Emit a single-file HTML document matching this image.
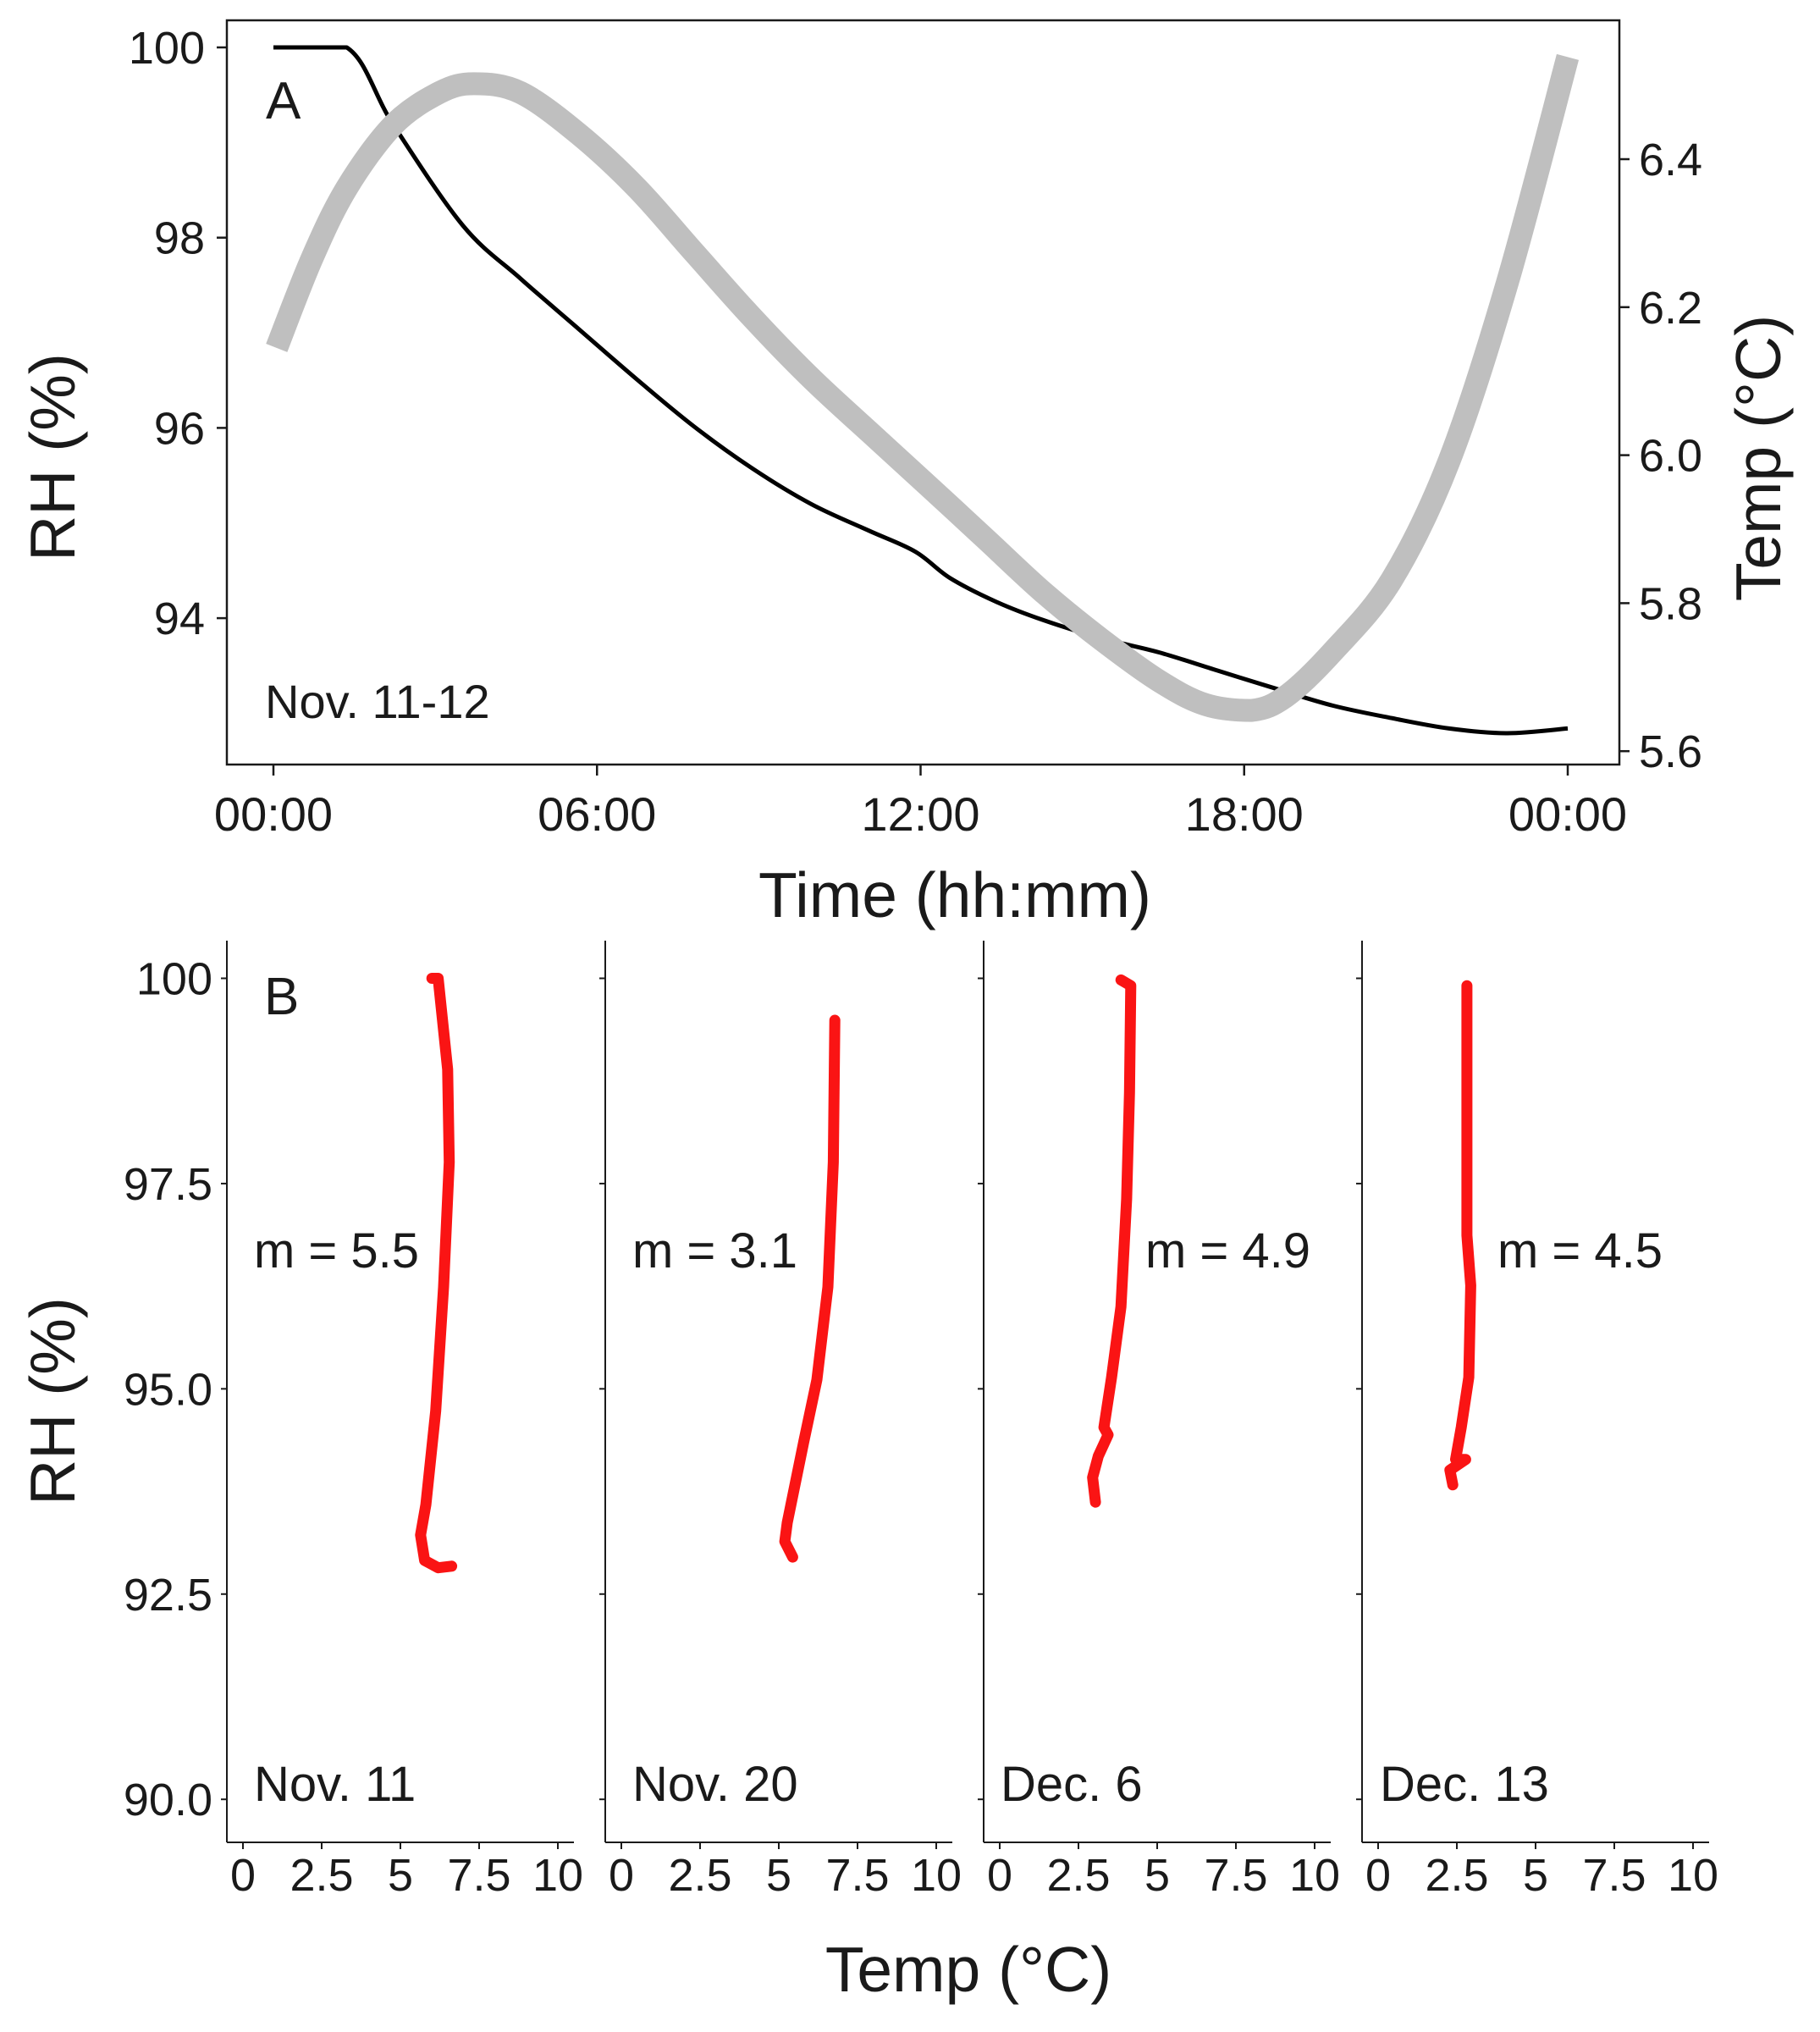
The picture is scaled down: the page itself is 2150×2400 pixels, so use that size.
<!DOCTYPE html>
<html><head><meta charset="utf-8"><style>
html,body{margin:0;padding:0;background:#fff;}
svg{display:block;font-family:"Liberation Sans",Arial,sans-serif;}
</style></head><body>
<svg id="fig" width="2150" height="2400" viewBox="0 0 2150 2400" xmlns="http://www.w3.org/2000/svg">
<g id="pa"></g>
<g id="pb"></g>
</svg>
<script>
// ---- Panel A data ----
const rhHours = [0, 1.36, 2.22, 3.51, 4.58, 5.66, 6.74, 7.81, 8.89, 9.97, 11.04, 11.9, 12.55, 13.41, 14.27, 15.35, 16.42, 17.5, 18.58, 19.65, 20.73, 21.8, 22.88, 24];
const rhValues = [100, 100, 99.19, 98.13, 97.57, 97.04, 96.51, 96.01, 95.57, 95.2, 94.92, 94.7, 94.42, 94.17, 93.98, 93.79, 93.64, 93.45, 93.26, 93.08, 92.95, 92.84, 92.79, 92.84];
const tempHours = [0.06, 0.71, 1.36, 2.22, 3.08, 3.72, 4.58, 5.66, 6.74, 7.81, 8.89, 9.97, 11.04, 12.12, 13.19, 14.27, 15.35, 16.42, 17.28, 18.14, 18.79, 19.65, 20.73, 21.8, 22.88, 24];
const tempValues = [6.145, 6.265, 6.361, 6.446, 6.49, 6.502, 6.49, 6.434, 6.361, 6.273, 6.185, 6.104, 6.032, 5.96, 5.888, 5.815, 5.751, 5.695, 5.663, 5.655, 5.675, 5.735, 5.831, 5.992, 6.233, 6.538];
const timeTicks = [0, 6, 12, 18, 24];
const timeTickLabels = ["00:00", "06:00", "12:00", "18:00", "00:00"];
const rhTicksA = [94, 96, 98, 100];
const tempTicksA = [5.6, 5.8, 6.0, 6.2, 6.4];

// ---- Panel B data ----
const panelDates = ["Nov. 11", "Nov. 20", "Dec. 6", "Dec. 13"];
const slopeLabels = ["m = 5.5", "m = 3.1", "m = 4.9", "m = 4.5"];
const bTemp0 = [6.0, 6.2, 6.5, 6.55, 6.37, 6.12, 5.81, 5.64, 5.77, 6.2, 6.63];
const bRH0 = [100, 100, 98.89, 97.76, 96.24, 94.73, 93.59, 93.22, 92.91, 92.82, 92.84];
const bTemp1 = [6.78, 6.73, 6.56, 6.21, 5.79, 5.27, 5.19, 5.44];
const bRH1 = [99.49, 97.76, 96.24, 95.11, 94.35, 93.37, 93.14, 92.95];
const bTemp2 = [3.85, 4.16, 4.12, 4.03, 3.85, 3.55, 3.31, 3.44, 3.13, 2.95, 3.04];
const bRH2 = [99.98, 99.91, 98.61, 97.31, 96.0, 95.14, 94.53, 94.44, 94.18, 93.92, 93.62];
const bTemp3 = [2.82, 2.82, 2.94, 2.88, 2.64, 2.46, 2.78, 2.28, 2.37];
const bRH3 = [99.91, 96.87, 96.26, 95.14, 94.53, 94.14, 94.14, 94.01, 93.83];
const rhTicksB = [90, 92.5, 95, 97.5, 100];
const rhTickLabelsB = ["90.0", "92.5", "95.0", "97.5", "100"];
const tempTicksB = [0, 2.5, 5, 7.5, 10];
const tempTickLabelsB = ["0", "2.5", "5", "7.5", "10"];

const NS = "http://www.w3.org/2000/svg";
function mk(parent, tag, attrs, text) {
  const e = document.createElementNS(NS, tag);
  for (const k in attrs) e.setAttribute(k, attrs[k]);
  if (text !== undefined) e.textContent = text;
  parent.appendChild(e);
  return e;
}
function clamp(v, a, b) { const lo = Math.min(a, b), hi = Math.max(a, b); return Math.max(lo, Math.min(hi, v)); }
function smoothPath(pts) {
  let d = "M" + pts[0][0].toFixed(1) + "," + pts[0][1].toFixed(1);
  for (let i = 0; i < pts.length - 1; i++) {
    const p0 = pts[Math.max(0, i - 1)], p1 = pts[i], p2 = pts[i + 1], p3 = pts[Math.min(pts.length - 1, i + 2)];
    const c1x = p1[0] + (p2[0] - p0[0]) / 6, c1y = clamp(p1[1] + (p2[1] - p0[1]) / 6, p1[1], p2[1]);
    const c2x = p2[0] - (p3[0] - p1[0]) / 6, c2y = clamp(p2[1] - (p3[1] - p1[1]) / 6, p1[1], p2[1]);
    d += " C" + c1x.toFixed(1) + "," + c1y.toFixed(1) + " " + c2x.toFixed(1) + "," + c2y.toFixed(1) + " " + p2[0].toFixed(1) + "," + p2[1].toFixed(1);
  }
  return d;
}
const INK = "#1a1a1a";

// ---- Panel A ----
const pa = document.getElementById("pa");
const xA = h => 323 + h * (1852 - 323) / 24;
const yRH = v => 56 + (100 - v) * 112.35;
const yT = v => 188 + (6.4 - v) * 874;

let el;
el = mk(pa, "rect", {x: 268, y: 24, width: 1645, height: 879, fill: "none", stroke: INK, "stroke-width": 2.5});



rhTicksA.forEach(v => {
  el = mk(pa, "line", {x1: 256, x2: 268, y1: yRH(v), y2: yRH(v), stroke: INK, "stroke-width": 2.5});
  
  
  el = mk(pa, "text", {x: 242, y: yRH(v) + 19, "text-anchor": "end", "font-size": 54, fill: INK}, String(v));
  
  
});
tempTicksA.forEach(v => {
  el = mk(pa, "line", {x1: 1913, x2: 1925, y1: yT(v), y2: yT(v), stroke: INK, "stroke-width": 2.5});
  
  
  el = mk(pa, "text", {x: 1936, y: yT(v) + 19, "font-size": 54, fill: INK}, v.toFixed(1));
  
  
});
timeTicks.forEach((h, i) => {
  el = mk(pa, "line", {x1: xA(h), x2: xA(h), y1: 903, y2: 916, stroke: INK, "stroke-width": 2.5});
  
  
  el = mk(pa, "text", {x: xA(h), y: 981, "text-anchor": "middle", "font-size": 56, fill: INK}, timeTickLabels[i]);
  
  
});

const rhPts = rhHours.map((h, i) => [xA(h), yRH(rhValues[i])]);
el = mk(pa, "path", {d: smoothPath(rhPts), fill: "none", stroke: "#000", "stroke-width": 5, "stroke-linejoin": "round"});



const tPts = tempHours.map((h, i) => [xA(h), yT(tempValues[i])]);
el = mk(pa, "path", {d: smoothPath(tPts), fill: "none", stroke: "#bfbfbf", "stroke-width": 27, "stroke-linejoin": "round", "stroke-linecap": "butt"});



el = mk(pa, "text", {x: 314, y: 140, "font-size": 62, fill: INK}, "A");


el = mk(pa, "text", {x: 313, y: 848, "font-size": 56, fill: INK}, "Nov. 11-12");


el = mk(pa, "text", {x: 0, y: 0, "font-size": 75, fill: INK, "text-anchor": "middle", transform: "translate(88,540) rotate(-90)"}, "RH (%)");


el = mk(pa, "text", {x: 0, y: 0, "font-size": 75, fill: INK, "text-anchor": "middle", transform: "translate(2103,541) rotate(-90)"}, "Temp (°C)");


el = mk(pa, "text", {x: 1128, y: 1083, "font-size": 75, fill: INK, "text-anchor": "middle"}, "Time (hh:mm)");



// ---- Panel B ----
const pb = document.getElementById("pb");
const axisX = [268, 715, 1162, 1609];
const yB = v => 1155.5 + (100 - v) * 96.97;
const series = [[bTemp0, bRH0], [bTemp1, bRH1], [bTemp2, bRH2], [bTemp3, bRH3]];
const slopeX = [300, 747, 1353, 1769];
const dateX = [300, 747, 1182, 1630];

axisX.forEach((ax, p) => {
  const xB = t => ax + 19 + t * 37.2;
  const g = mk(pb, "g", {});
  
  
  el = mk(g, "line", {x1: ax, x2: ax, y1: 1111, y2: 2176, stroke: INK, "stroke-width": 2});
  
  
  el = mk(g, "line", {x1: ax, x2: ax + 410, y1: 2176, y2: 2176, stroke: INK, "stroke-width": 2});
  
  
  rhTicksB.forEach((v, i) => {
    el = mk(g, "line", {x1: ax - 7, x2: ax, y1: yB(v), y2: yB(v), stroke: INK, "stroke-width": 2});
    
    
    if (p === 0) {
      el = mk(g, "text", {x: 251, y: yB(v) + 19, "text-anchor": "end", "font-size": 54, fill: INK}, rhTickLabelsB[i]);
      
      
    }
  });
  tempTicksB.forEach((t, i) => {
    el = mk(g, "line", {x1: xB(t), x2: xB(t), y1: 2176, y2: 2184, stroke: INK, "stroke-width": 2});
    
    
    el = mk(g, "text", {x: xB(t), y: 2233, "text-anchor": "middle", "font-size": 54, fill: INK}, tempTickLabelsB[i]);
    
    
  });
  const [ts, rs] = series[p];
  const pts = ts.map((t, i) => xB(t).toFixed(1) + "," + yB(rs[i]).toFixed(1)).join(" ");
  el = mk(g, "polyline", {points: pts, fill: "none", stroke: "#fa1414", "stroke-width": 13, "stroke-linejoin": "round", "stroke-linecap": "round"});
  
  
  el = mk(g, "text", {x: slopeX[p], y: 1497, "font-size": 58, fill: INK}, slopeLabels[p]);
  
  
  el = mk(g, "text", {x: dateX[p], y: 2127, "font-size": 58, fill: INK}, panelDates[p]);
  
  
});

el = mk(pb, "text", {x: 312, y: 1198, "font-size": 62, fill: INK}, "B");


el = mk(pb, "text", {x: 0, y: 0, "font-size": 75, fill: INK, "text-anchor": "middle", transform: "translate(88,1655) rotate(-90)"}, "RH (%)");


el = mk(pb, "text", {x: 1144, y: 2352, "font-size": 75, fill: INK, "text-anchor": "middle"}, "Temp (°C)");


</script>
</body></html>
